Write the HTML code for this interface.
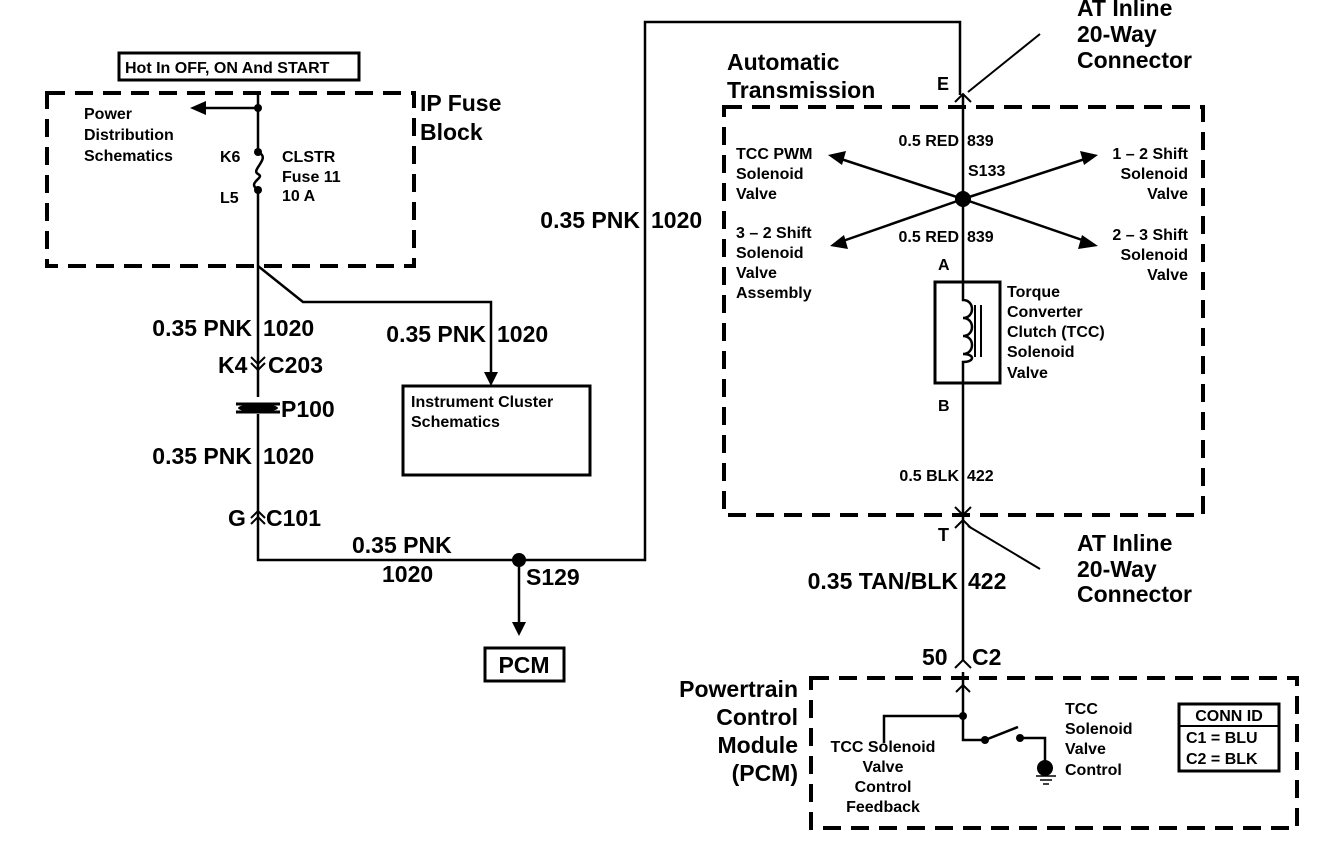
<!DOCTYPE html>
<html><head><meta charset="utf-8"><style>
html,body{margin:0;padding:0;background:#fff}
svg{display:block}
text{font-family:"Liberation Sans",Arial,sans-serif;font-weight:bold;fill:#000}
.b{font-size:23px}.s{font-size:16px}.m{font-size:18px}
</style></head><body>
<svg width="1328" height="852" viewBox="0 0 1328 852" xmlns="http://www.w3.org/2000/svg">
<g fill="none" stroke="#000" stroke-width="2.5">
<rect x="119" y="53" width="240" height="27" stroke-width="3"/>
<rect x="47" y="93" width="367" height="173" stroke-width="4" stroke-dasharray="18,10"/>
<path d="M258 93 V152"/>
<path d="M258 152 C272 158 250 170 258 174 C266 178 246 182 258 190"/>
<path d="M258 190 V397 M258 414 V518 V560 H645 V22 H960 V95"/>
<path d="M258 108 H205"/>
<path d="M258 266 L303 302 H491 V375"/>
<rect x="403" y="386" width="187" height="89" stroke-width="3"/>
<path d="M251 357 L258 364 L265 357 M251 363 L258 370 L265 363" stroke-width="2"/>
<path d="M251 518 L258 511 L265 518 M251 524 L258 517 L265 524" stroke-width="2"/>
<path d="M236 404 H280 M236 412 H280" stroke-width="3"/>
<path d="M519 560 V625"/>
<rect x="485" y="648" width="79" height="33" stroke-width="3"/>
<rect x="724" y="107" width="479" height="408" stroke-width="4" stroke-dasharray="18,10"/>
<path d="M963 95 V281 M963 383 V660 M963 672 V716"/>
<path d="M955 102 L963 94 L971 102 M955 507 L963 515 L971 507 M955 528 L963 520 L971 528 M955 668 L963 660 L971 668" stroke-width="2"/>
<path d="M1040 34 L968 92 M1040 569 L968 526" stroke-width="2"/>
<path d="M963 199 L838 158 M963 199 L1088 158 M963 199 L840 242 M963 199 L1088 242"/>
<rect x="935" y="282" width="65" height="101" stroke-width="3"/>
<path d="M963 282 V300 C975 300 975 318 963 318 C975 318 975 336 963 336 C975 336 975 354 963 354 C975 354 975 362 963 362 V383" stroke-width="2.5"/>
<path d="M975 305 V357 M981 305 V357" stroke-width="2"/>
<rect x="811" y="678" width="486" height="150" stroke-width="4" stroke-dasharray="18,10"/>
<path d="M963 716 H884 V743 M963 716 V740 H985 L1018 727 M1020 738 H1045 V765"/>
<path d="M956 692 L963 685 L970 692" stroke-width="2"/>
<path d="M1036 776 H1056 M1040 780 H1052 M1043 784 H1049" stroke-width="1.5"/>
<rect x="1179" y="704" width="100" height="67" stroke-width="3"/>
<path d="M1179 726 H1279" stroke-width="2"/>
</g>
<g fill="#000">
<circle cx="258" cy="108" r="4"/><circle cx="258" cy="152" r="4"/><circle cx="258" cy="190" r="4"/>
<polygon points="190,108 206,101 206,115"/>
<polygon points="484,372 498,372 491,386"/>
<ellipse cx="258" cy="408" rx="20" ry="4"/>
<circle cx="519" cy="560" r="7"/>
<polygon points="512,622 526,622 519,636"/>
<circle cx="963" cy="199" r="8"/>
<polygon points="828,155 846,151 842,165"/>
<polygon points="1098,155 1080,151 1084,165"/>
<polygon points="830,246 844,235 848,249"/>
<polygon points="1098,246 1082,235 1078,249"/>
<circle cx="963" cy="716" r="4"/><circle cx="985" cy="740" r="4"/><circle cx="1020" cy="738" r="4"/>
<circle cx="1045" cy="768" r="8"/>
</g>
<text x="125" y="73" style="font-size:16px">Hot In OFF, ON And START</text>
<text class="b" x="420" y="111">IP Fuse</text><text class="b" x="420" y="140">Block</text>
<text class="s" x="84" y="119">Power</text><text class="s" x="84" y="140">Distribution</text><text class="s" x="84" y="161">Schematics</text>
<text class="s" x="220" y="162">K6</text><text class="s" x="220" y="203">L5</text>
<text class="s" x="282" y="162">CLSTR</text><text class="s" x="282" y="182">Fuse 11</text><text class="s" x="282" y="201">10 A</text>
<text class="b" x="252" y="336" text-anchor="end">0.35 PNK</text><text class="b" x="263" y="336">1020</text>
<text class="b" x="218" y="373">K4</text><text class="b" x="268" y="373">C203</text>
<text class="b" x="281" y="417">P100</text>
<text class="b" x="252" y="464" text-anchor="end">0.35 PNK</text><text class="b" x="263" y="464">1020</text>
<text class="b" x="228" y="526">G</text><text class="b" x="266" y="526">C101</text>
<text class="b" x="486" y="342" text-anchor="end">0.35 PNK</text><text class="b" x="497" y="342">1020</text>
<text class="s" x="411" y="407">Instrument Cluster</text><text class="s" x="411" y="427">Schematics</text>
<text class="b" x="352" y="553">0.35 PNK</text><text class="b" x="382" y="582">1020</text>
<text class="b" x="526" y="585">S129</text>
<text class="b" x="524" y="673" text-anchor="middle">PCM</text>
<text class="b" x="640" y="228" text-anchor="end">0.35 PNK</text><text class="b" x="651" y="228">1020</text>
<text class="b" x="1077" y="16">AT Inline</text><text class="b" x="1077" y="42">20-Way</text><text class="b" x="1077" y="68">Connector</text>
<text class="b" x="727" y="70">Automatic</text><text class="b" x="727" y="98">Transmission</text>
<text class="m" x="937" y="90">E</text>
<text class="s" x="959" y="146" text-anchor="end">0.5 RED</text><text class="s" x="967" y="146">839</text>
<text class="s" x="968" y="176">S133</text>
<text class="s" x="959" y="242" text-anchor="end">0.5 RED</text><text class="s" x="967" y="242">839</text>
<text class="s" x="736" y="159">TCC PWM</text><text class="s" x="736" y="179">Solenoid</text><text class="s" x="736" y="199">Valve</text>
<text class="s" x="736" y="238">3 – 2 Shift</text><text class="s" x="736" y="258">Solenoid</text><text class="s" x="736" y="278">Valve</text><text class="s" x="736" y="298">Assembly</text>
<text class="s" x="1188" y="159" text-anchor="end">1 – 2 Shift</text><text class="s" x="1188" y="179" text-anchor="end">Solenoid</text><text class="s" x="1188" y="199" text-anchor="end">Valve</text>
<text class="s" x="1188" y="240" text-anchor="end">2 – 3 Shift</text><text class="s" x="1188" y="260" text-anchor="end">Solenoid</text><text class="s" x="1188" y="280" text-anchor="end">Valve</text>
<text class="s" x="938" y="270">A</text><text class="s" x="938" y="411">B</text>
<text class="s" x="1007" y="297">Torque</text><text class="s" x="1007" y="317">Converter</text><text class="s" x="1007" y="337">Clutch (TCC)</text><text class="s" x="1007" y="357">Solenoid</text><text class="s" x="1007" y="378">Valve</text>
<text class="s" x="959" y="481" text-anchor="end">0.5 BLK</text><text class="s" x="967" y="481">422</text>
<text class="m" x="938" y="541">T</text>
<text class="b" x="1077" y="551">AT Inline</text><text class="b" x="1077" y="577">20-Way</text><text class="b" x="1077" y="602">Connector</text>
<text class="b" x="958" y="589" text-anchor="end">0.35 TAN/BLK</text><text class="b" x="968" y="589">422</text>
<text class="b" x="922" y="665">50</text><text class="b" x="972" y="665">C2</text>
<text class="b" x="798" y="697" text-anchor="end">Powertrain</text><text class="b" x="798" y="725" text-anchor="end">Control</text><text class="b" x="798" y="753" text-anchor="end">Module</text><text class="b" x="798" y="781" text-anchor="end">(PCM)</text>
<text class="s" x="883" y="752" text-anchor="middle">TCC Solenoid</text><text class="s" x="883" y="772" text-anchor="middle">Valve</text><text class="s" x="883" y="792" text-anchor="middle">Control</text><text class="s" x="883" y="812" text-anchor="middle">Feedback</text>
<text class="s" x="1065" y="714">TCC</text><text class="s" x="1065" y="734">Solenoid</text><text class="s" x="1065" y="754">Valve</text><text class="s" x="1065" y="775">Control</text>
<text class="s" x="1229" y="721" text-anchor="middle">CONN ID</text>
<text class="s" x="1186" y="743">C1 = BLU</text><text class="s" x="1186" y="764">C2 = BLK</text>
</svg>
</body></html>
